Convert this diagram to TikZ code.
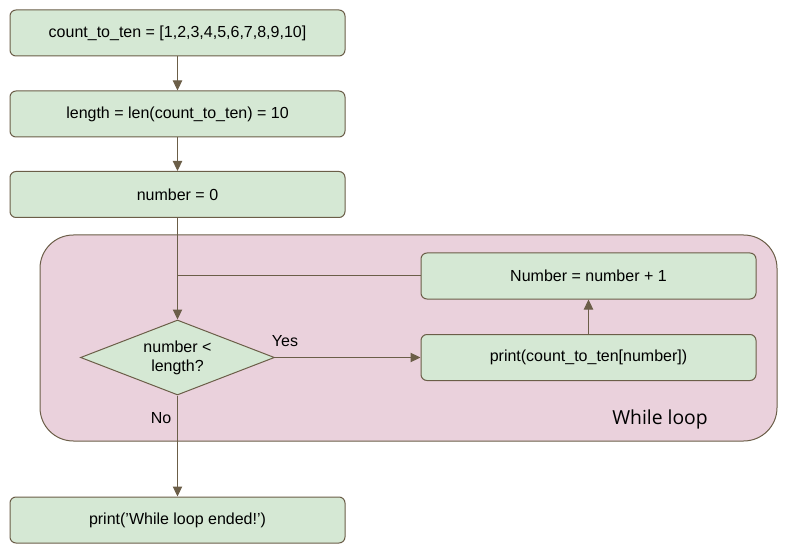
\documentclass[tikz,border=0pt]{standalone}
\usepackage{fontspec}
\setmainfont{Liberation Sans}
\newfontfamily\loopfont{Open Sans}
\usepackage{tikz}
\usetikzlibrary{shapes,arrows.meta,calc,positioning,shapes.geometric}
\definecolor{boxgreen}{RGB}{213,232,212}
\definecolor{looppink}{RGB}{234,209,220}
\definecolor{edgebrown}{RGB}{107,94,72}
\tikzset{
>={Triangle[width=7pt,length=7.5pt]},
  stepbox/.style={
    rectangle,
    rounded corners=4.5pt,
    fill=boxgreen,
    draw=edgebrown, line width=0.75pt,
    minimum width=251.25pt,
    minimum height=34.5pt,
    inner sep=0pt,
    text centered,
    font=\fontsize{12}{14.25}\selectfont},
  decision/.style={
    diamond,
    aspect=2.587,
    fill=boxgreen,
    draw=edgebrown, line width=0.75pt,
    minimum width=145.5pt,
    minimum height=56.25pt,
    inner sep=0pt,
    align=center,
    font=\fontsize{12}{14.25}\selectfont},
  line/.style={draw=edgebrown, line width=0.75pt, ->},
}
\begin{document}
\begin{tikzpicture}[
    x=0.75pt, y=-0.75pt,
    loopbox/.style={fill=looppink, draw=edgebrown, line width=0.75pt, rounded corners=25pt},
    plain line/.style={draw=edgebrown, line width=0.75pt},
    tag/.style={font=\fontsize{12}{14.25}\selectfont, inner sep=0pt}
    ]
	\useasboundingbox (0,0) rectangle (785,552);

	% while loop frame
	\draw[loopbox] (40,235) rectangle (777,441);
	\node[font=\loopfont\fontsize{14.5}{17}\selectfont, inner sep=0pt] (looplabel) at (660,419) {While loop};

	\node[stepbox] (list) at (177.5,33) {count\_to\_ten = [1,2,3,4,5,6,7,8,9,10]};
	\node[stepbox] (len) at (177.5,114) {length = len(count\_to\_ten) = 10};
	\node[stepbox] (init) at (177.5,194.5) {number = 0};
	\node[decision] (test) at (177.5,357.5) {number <\\length?};
	\node[stepbox] (show) at (588.5,357.5) {print(count\_to\_ten[number])};
	\node[stepbox] (incr) at (588.5,276) {Number = number + 1};
	\node[stepbox] (done) at (177.5,520) {print('While loop ended!')};

	\coordinate (merge) at (incr.west -| test.north);

	\draw[line] (list) -- (len);
	\draw[line] (len) -- (init);
	\draw[line] (init) -- (test);
	\draw[plain line] (incr) -- (merge);
	\draw[line] (test) -- (show) node[tag] (yes) at (285,341.5) {Yes};
	\draw[line] (show) -- (incr);
	\draw[line] (test) -- (done) node[tag] (no) at (161,418.5) {No};

\end{tikzpicture}
\end{document}
